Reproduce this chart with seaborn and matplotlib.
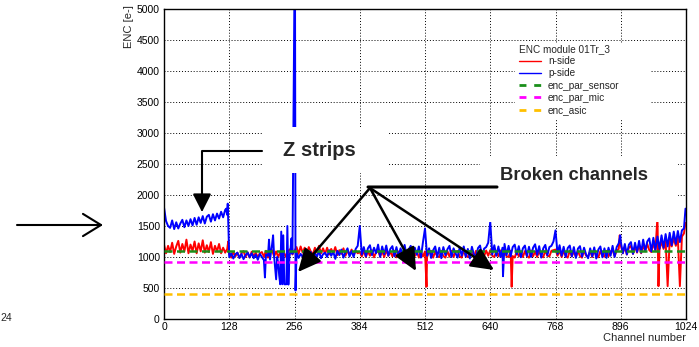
"""
ENC per channel, module 01Tr_3
n-side / p-side noise with expected noise levels
"""

import numpy as np
import pandas as pd
import matplotlib
matplotlib.use("Agg")
import matplotlib.pyplot as plt
import seaborn as sns
from matplotlib.lines import Line2D
from matplotlib.patches import Rectangle, FancyArrowPatch
from matplotlib.ticker import MultipleLocator

# values, one value every 4 channels
CHANNEL_STEP = 4

n_side_base = [
    1200, 1060, 1180, 1080, 1230, 1050, 1170, 1260, 1070, 1210, 1090, 1280, 1060, 1200, 1100, 1250,
    1060, 1220, 1090, 1270, 1070, 1190, 1080, 1240, 1050, 1180, 1090, 1210, 1060, 1150, 1070, 1130,
    1040, 990, 1080, 1010, 1070, 985, 1060, 1095, 1000, 1075, 990, 1085, 1015, 1070, 995, 1060,
    1080, 1005, 1100, 990, 1070, 1110, 1010, 1090, 1000, 1080, 975, 1060, 995, 1100, 1130, 1040,
    1100, 1160, 1050, 1170, 1070, 1150, 1045, 1160, 1090, 1040, 1150, 1070, 1180, 1060, 1140, 1050,
    1150, 1040, 1130, 1060, 1160, 1030, 1110, 1050, 1140, 1020, 1100, 1040, 1120, 1030, 1100, 1060,
    1080, 1010, 1100, 1000, 1090, 1020, 1110, 995, 1080, 1100, 1010, 1090, 1000, 1110, 1020, 1085,
    1010, 1100, 995, 1090, 1070, 1000, 1105, 1010, 1090, 1000, 1110, 1015, 1095, 990, 1080, 1010,
    1090, 1000, 1080, 1100, 990, 1090, 1010, 1000, 1100, 1015, 990, 1095, 1005, 1100, 1000, 1085,
    1095, 1010, 990, 1105, 1015, 1000, 1095, 1080, 990, 1100, 1010, 1000, 1095, 1015, 1105, 1020,
    1110, 1020, 1000, 1095, 1010, 1105, 990, 1090, 1010, 1000, 1100, 1015, 990, 1095, 1010, 1085,
    1000, 1095, 1015, 990, 1105, 1010, 1090, 1000, 1095, 1015, 995, 1105, 1020, 1010, 1100, 1110,
    1120, 1020, 1100, 1000, 1095, 1015, 990, 1100, 1010, 1090, 1000, 1095, 1015, 990, 1105, 1020,
    1010, 1095, 1000, 1105, 1015, 995, 1095, 1020, 1005, 1100, 1010, 1090, 1110, 1015, 1100, 1130,
    1190, 1060, 1160, 1040, 1150, 1180, 1050, 1170, 1070, 1200, 1060, 1190, 1090, 1210, 1110, 1080,
    1220, 1100, 1240, 1120, 1250, 1130, 1270, 1150, 1280, 1170, 1300, 1180, 1310, 1200, 1330, 1380,
]

p_side_base = [
    1800, 1580, 1500, 1470, 1590, 1450, 1560, 1460, 1540, 1600, 1480, 1590, 1500, 1610, 1510, 1630,
    1520, 1640, 1550, 1660, 1540, 1650, 1680, 1570, 1690, 1590, 1700, 1620, 1730, 1640, 1760, 1680,
    1000, 1060, 975, 1045, 1070, 985, 1050, 965, 1030, 1075, 995, 1060, 980, 1040, 955, 1050,
    1000, 950, 1040, 1020, 960, 1200, 1010, 640, 900, 560, 560, 560, 560, 555, 1100, 1050,
    1010, 1070, 985, 1050, 1000, 1090, 975, 1040, 1080, 990, 1060, 1005, 1095, 980, 1045, 1070,
    1000, 1110, 1020, 1085, 970, 1100, 1030, 1120, 990, 1075, 1140, 1010, 1095, 1000, 1130, 1180,
    1210, 1040, 1160, 1010, 1140, 1190, 1030, 1150, 1060, 1200, 1000, 1170, 1045, 1185, 1020, 1130,
    1175, 1010, 1160, 1000, 1140, 1050, 1195, 1020, 1120, 1180, 1005, 1150, 1035, 1170, 990, 1240,
    1190, 1020, 1140, 985, 1110, 1170, 1000, 1150, 980, 1160, 1030, 1125, 1180, 1000, 1140, 1060,
    990, 1150, 1020, 1170, 1005, 1130, 975, 1165, 1040, 1000, 1145, 1185, 1010, 1135, 1160, 1230,
    1240, 1040, 1190, 1020, 1170, 1000, 1150, 1210, 1030, 1180, 1010, 1160, 1200, 1040, 1175, 995,
    1140, 1185, 1015, 1165, 1000, 1150, 1205, 1035, 1175, 990, 1140, 1195, 1025, 1160, 1180, 1250,
    1260, 1050, 1190, 1020, 1165, 1000, 1145, 1185, 1010, 1160, 985, 1135, 1175, 1005, 1150, 1040,
    980, 1140, 1010, 1155, 975, 1120, 1170, 995, 1140, 985, 1150, 1020, 1180, 1000, 1160, 1220,
    1250, 1060, 1210, 1040, 1200, 1240, 1050, 1230, 1080, 1260, 1070, 1280, 1100, 1250, 1300, 1090,
    1310, 1110, 1330, 1130, 1350, 1150, 1370, 1170, 1390, 1190, 1410, 1210, 1420, 1240, 1430, 1460,
]

# single-channel outliers (channel: ENC)
n_side_spikes = {126: 1250, 515: 520, 682: 520, 894: 1350, 968: 1650,
                 970: 530, 988: 530, 1012: 530, 1023: 1550}
p_side_spikes = {122: 1780, 125: 1860, 198: 670, 206: 1280, 214: 1350, 222: 1000,
                 226: 700, 230: 1410, 234: 1350, 242: 1500, 246: 1000, 250: 1300,
                 256: 5400, 257: 5400, 258: 460, 384: 1500, 512: 1460, 640: 1570,
                 665: 690, 768: 1430, 895: 1350, 1023: 1780}

# expected noise levels
enc_par_sensor = 1100
enc_par_mic = 925
enc_asic = 400

x_ticks = list(range(0, 1025, 128))

RED = '#ff0000'
BLUE = '#0000ff'
GREEN = '#1a8f1a'
MAGENTA = '#ff00ff'
ORANGE = '#ffc000'

W, H = 699, 347


def build_series(base, spikes):
    df = pd.DataFrame({'channel': np.arange(len(base)) * CHANNEL_STEP, 'enc': base})
    sp = pd.DataFrame({'channel': list(spikes.keys()), 'enc': list(spikes.values())})
    df = pd.concat([df, sp]).drop_duplicates('channel', keep='last')
    return df.sort_values('channel').reset_index(drop=True)


def frac(x, y):
    """image pixel (from top-left) -> figure fraction"""
    return (x / W, 1 - y / H)


assert len(n_side_base) == 256 and len(p_side_base) == 256

sns.set_style('white')
plt.rcParams['font.family'] = ['Liberation Sans', 'DejaVu Sans']

fig = plt.figure(figsize=(W / 100, H / 100), dpi=100)
ax = fig.add_axes([164 / W, 1 - 319 / H, 522 / W, 310 / H])

n_df = build_series(n_side_base, n_side_spikes)
p_df = build_series(p_side_base, p_side_spikes)

sns.lineplot(data=n_df, x='channel', y='enc', color=RED, lw=1.4, ax=ax,
             estimator=None, zorder=2)
sns.lineplot(data=p_df, x='channel', y='enc', color=BLUE, lw=1.4, ax=ax,
             estimator=None, zorder=2.1)

dash = (0, (3.2, 1.8))
for level, col in [(enc_par_sensor, GREEN), (enc_par_mic, MAGENTA), (enc_asic, ORANGE)]:
    ax.axhline(level, color=col, lw=1.8, linestyle=dash, zorder=3)

ax.set_xlim(0, 1024)
ax.set_ylim(0, 5000)
ax.set_xticks(x_ticks)
ax.yaxis.set_major_locator(MultipleLocator(500))
ax.yaxis.set_minor_locator(MultipleLocator(100))
ax.tick_params(axis='both', which='both', direction='in', colors='black',
               labelsize=7.5, width=0.8)
ax.tick_params(axis='y', which='major', length=7, pad=3)
ax.tick_params(axis='y', which='minor', length=4)
ax.tick_params(axis='x', which='major', length=6, pad=2.5)
ax.grid(True, which='major', color='black', linestyle=(0, (1, 2)), linewidth=0.7)
for s in ax.spines.values():
    s.set_color('black')
    s.set_linewidth(1.0)

ax.set_xlabel('Channel number', fontsize=8, loc='right')
ax.set_ylabel('ENC [e-]', fontsize=8, loc='top')
ax.xaxis.set_label_coords(1.0, -0.045)
ax.yaxis.set_label_coords(-0.057, 1.013)

# white boxes behind legend and annotations
for (x0, y0, x1, y1) in [(515, 43, 650, 120), (262, 127, 388, 173), (480, 156, 678, 222)]:
    ax.add_artist(Rectangle(frac(x0, y1), (x1 - x0) / W, (y1 - y0) / H,
                            transform=fig.transFigure, facecolor='white',
                            edgecolor='none', zorder=4))

handles = [
    Line2D([], [], color=RED, lw=1.0),
    Line2D([], [], color=BLUE, lw=1.0),
    Line2D([], [], color=GREEN, lw=2, linestyle=(0, (2.5, 2.8))),
    Line2D([], [], color=MAGENTA, lw=2, linestyle=(0, (2.5, 2.8))),
    Line2D([], [], color=ORANGE, lw=2, linestyle=(0, (2.5, 2.8))),
]
labels = ['n-side', 'p-side', 'enc_par_sensor', 'enc_par_mic', 'enc_asic']
leg = ax.legend(handles, labels, title='ENC module 01Tr_3', loc='upper left',
                bbox_to_anchor=frac(519, 44), bbox_transform=fig.transFigure,
                frameon=False, fontsize=7.2, title_fontsize=7.2,
                handlelength=2.2, handletextpad=0.7, labelspacing=0.22,
                borderpad=0, borderaxespad=0, alignment='left')
leg.set_zorder(5)

# annotations
ax.text(*frac(319, 150), 'Z strips', transform=fig.transFigure, ha='center',
        va='center', fontsize=14.5, fontweight='bold', zorder=7)
ax.text(*frac(574, 176), 'Broken channels', transform=fig.transFigure, ha='center',
        va='center', fontsize=13.2, fontweight='bold', zorder=7)


def arrow(start, end, style, lw, scale, conn='arc3', clip=True):
    p = FancyArrowPatch(frac(*start), frac(*end), transform=fig.transFigure,
                        arrowstyle=style, connectionstyle=conn, mutation_scale=scale,
                        color='black', lw=lw, shrinkA=0, shrinkB=0, zorder=6)
    p.set_clip_on(clip)
    ax.add_artist(p)


arrow((262, 151), (202, 212), '-|>,head_length=0.55,head_width=0.28', 1.5, 20,
      conn='angle,angleA=0,angleB=90,rad=0')
arrow((368, 187), (497, 187), '-', 2.2, 10)
for tip in [(298, 272), (416, 271), (494, 270)]:
    arrow((370, 188), tip, '-|>,head_length=0.7,head_width=0.33', 1.8, 20)

# arrow outside of the frame on the left
arrow((17, 225), (103, 225), '->,head_length=0.65,head_width=0.4', 1.5, 20, clip=False)
fig.text(*frac(0, 318), '24', ha='left', va='center', fontsize=7.5)

fig.savefig('out.png', dpi=100)
